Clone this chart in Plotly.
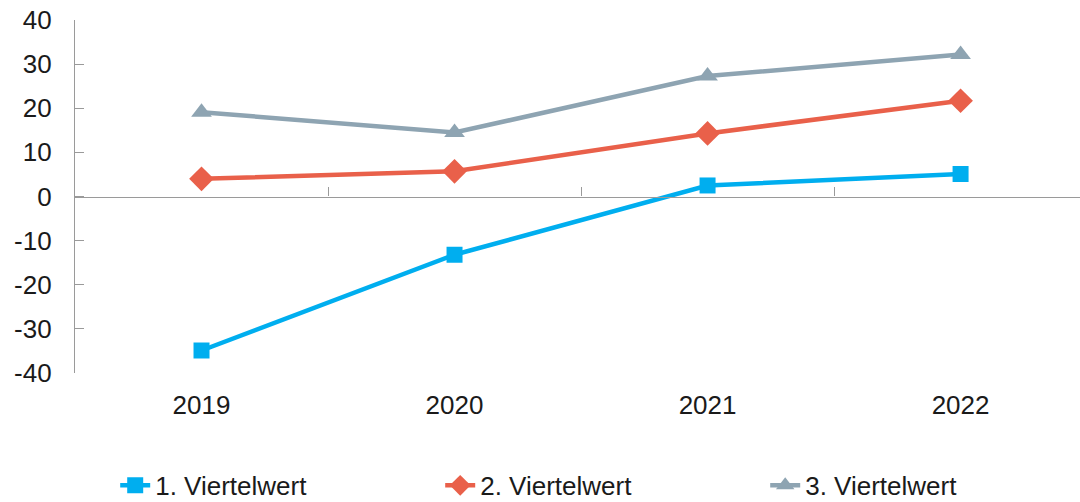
import plotly.graph_objects as go

years = ["2019", "2020", "2021", "2022"]
q1 = [-34.9, -13.2, 2.5, 5.1]
q2 = [4.0, 5.7, 14.3, 21.7]
q3 = [19.1, 14.5, 27.3, 32.2]
names = ["1. Viertelwert", "2. Viertelwert", "3. Viertelwert"]
colors = ["#00AEEF", "#E9604A", "#8EA4B2"]
symbols = ["square", "diamond", "triangle-up"]
msizes = [16, 19, 18]
y_ticks = [-40, -30, -20, -10, 0, 10, 20, 30, 40]
y_labels = [str(v) for v in y_ticks]

FONT = "Liberation Sans, Arial, sans-serif"
FS = 26

fig = go.Figure()
for vals, name, col, sym, ms in zip([q1, q2, q3], names, colors, symbols, msizes):
    fig.add_trace(go.Scatter(
        x=years, y=vals, name=name, mode="lines+markers",
        line=dict(color=col, width=4.5),
        marker=dict(symbol=sym, size=ms, color=col),
        xaxis="x", yaxis="y",
    ))
# helper trace so the zero-line category axis is drawn
fig.add_trace(go.Scatter(x=years, y=[None]*4, xaxis="x2", yaxis="y",
                         showlegend=False, hoverinfo="skip"))

fig.update_layout(
    width=1080, height=502,
    margin=dict(l=75, r=0, t=20, b=129, autoexpand=False),
    paper_bgcolor="white", plot_bgcolor="white",
    font=dict(family=FONT, size=FS, color="#1a1a1a"),
    xaxis=dict(type="category", range=[-0.5, 3.472], showline=False,
               showgrid=False, zeroline=False, ticks="",
               ticklabelstandoff=14, tickfont=dict(size=FS)),
    xaxis2=dict(type="category", matches="x", overlaying="x", anchor="free",
                position=0.5, showline=True, linecolor="#9a9a9a", linewidth=1.3,
                ticks="inside", tickson="boundaries", ticklen=9,
                tickcolor="#9a9a9a", tickwidth=1.3, showticklabels=False,
                showgrid=False, zeroline=False),
    yaxis=dict(range=[-40, 40], tickvals=y_ticks, ticktext=y_labels,
               showline=True, linecolor="#9a9a9a", linewidth=1.3,
               ticks="inside", ticklen=9, tickcolor="#9a9a9a", tickwidth=1.3,
               showgrid=False, zeroline=False, ticklabelstandoff=17,
               tickfont=dict(size=FS)),
    legend=dict(orientation="h", x=0.04, xanchor="left", y=-0.385,
                yanchor="bottom", font=dict(size=FS), entrywidth=280,
                bgcolor="rgba(0,0,0,0)"),
    showlegend=True,
)

fig.write_html("out.html")
